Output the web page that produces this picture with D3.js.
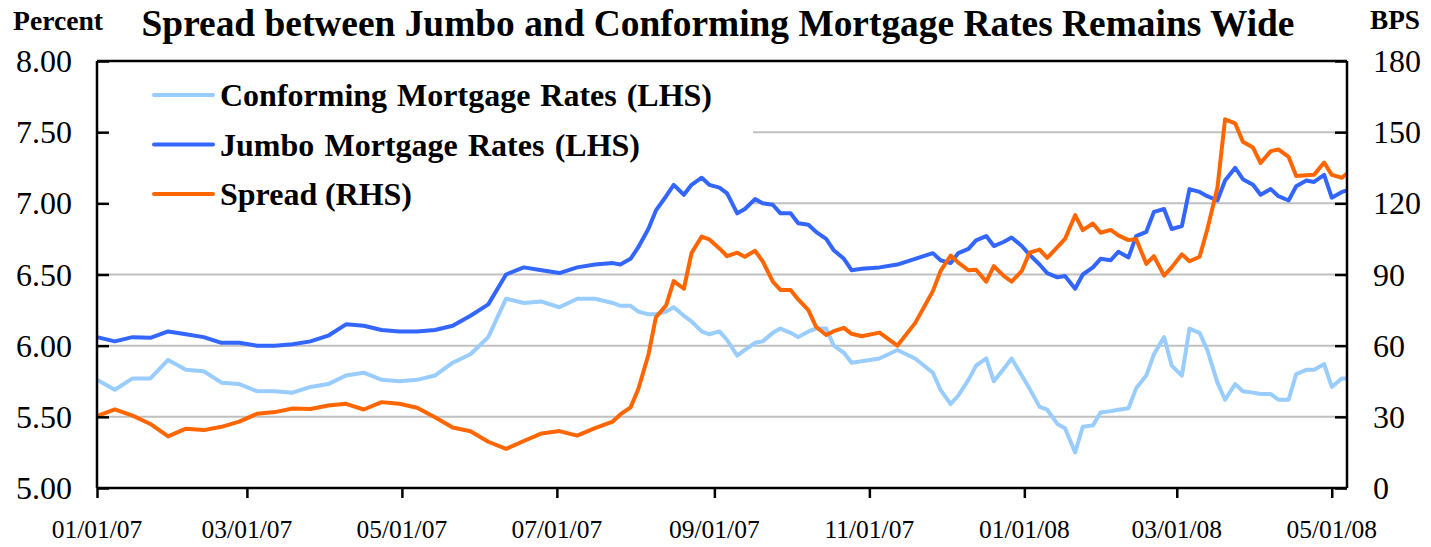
<!DOCTYPE html>
<html>
<head>
<meta charset="utf-8">
<script src="https://cdn.jsdelivr.net/npm/d3@7"></script>
<style>
  body { margin: 0; background: #fff; }
  svg { display: block; font-family: "Liberation Serif", "Times New Roman", serif; }
</style>
</head>
<body>
<svg id="chart" width="1431" height="547"></svg>
<script>
const dates = [
  "2007-01-01","2007-01-08","2007-01-15","2007-01-22","2007-01-29","2007-02-05","2007-02-12","2007-02-19","2007-02-26","2007-03-05","2007-03-12","2007-03-19","2007-03-26","2007-04-02","2007-04-09","2007-04-16","2007-04-23","2007-04-30",
  "2007-05-07","2007-05-14","2007-05-21","2007-05-28","2007-06-04","2007-06-11","2007-06-18","2007-06-25","2007-07-02","2007-07-09","2007-07-16","2007-07-23",
  "2007-07-26","2007-07-30","2007-08-02","2007-08-06","2007-08-09","2007-08-13","2007-08-16","2007-08-20","2007-08-23","2007-08-27","2007-08-30","2007-09-03","2007-09-06",
  "2007-09-10","2007-09-13","2007-09-17","2007-09-20","2007-09-24","2007-09-27","2007-10-01","2007-10-04","2007-10-08","2007-10-11","2007-10-15","2007-10-18","2007-10-22","2007-10-25","2007-10-29",
  "2007-11-05","2007-11-12","2007-11-19","2007-11-26","2007-11-29","2007-12-03","2007-12-06","2007-12-10","2007-12-13","2007-12-17","2007-12-20","2007-12-24","2007-12-27","2007-12-31",
  "2008-01-03","2008-01-07","2008-01-10","2008-01-14","2008-01-17","2008-01-21","2008-01-24","2008-01-28","2008-01-31","2008-02-04","2008-02-07","2008-02-11","2008-02-14","2008-02-18","2008-02-21","2008-02-25","2008-02-28",
  "2008-03-03","2008-03-06","2008-03-10","2008-03-13","2008-03-17","2008-03-20","2008-03-24","2008-03-27","2008-03-31","2008-04-03","2008-04-07","2008-04-10","2008-04-14","2008-04-17","2008-04-21","2008-04-24","2008-04-28","2008-05-01","2008-05-05","2008-05-07"
];

const conforming = [
  5.76,5.69,5.77,5.77,5.90,5.83,5.82,5.74,5.73,5.68,5.68,5.67,5.71,5.73,5.79,5.81,5.76,5.75,
  5.76,5.79,5.88,5.94,6.06,6.33,6.30,6.31,6.27,6.33,6.33,6.30,
  6.28,6.28,6.24,6.22,6.22,6.24,6.27,6.21,6.17,6.10,6.08,6.10,6.04,
  5.93,5.97,6.02,6.03,6.09,6.12,6.09,6.06,6.10,6.12,6.12,6.00,5.95,5.88,5.89,
  5.91,5.97,5.91,5.81,5.69,5.59,5.65,5.76,5.86,5.91,5.75,5.84,5.91,5.79,
  5.70,5.57,5.55,5.45,5.42,5.25,5.43,5.44,5.53,5.54,5.55,5.56,5.70,5.79,5.94,6.06,5.86,
  5.79,6.12,6.09,5.97,5.74,5.62,5.73,5.68,5.67,5.66,5.66,5.62,5.62,5.80,5.83,5.83,5.87,5.71,5.77,5.77
];

const jumbo = [
  6.06,6.03,6.06,6.055,6.10,6.08,6.06,6.02,6.02,6.00,6.00,6.01,6.03,6.07,6.15,6.14,6.11,6.10,
  6.10,6.11,6.14,6.21,6.29,6.50,6.55,6.53,6.51,6.55,6.57,6.58,
  6.57,6.61,6.69,6.82,6.95,7.05,7.13,7.06,7.13,7.18,7.13,7.11,7.07,
  6.93,6.96,7.03,7.00,6.99,6.93,6.93,6.86,6.85,6.80,6.75,6.67,6.61,6.53,6.54,
  6.55,6.57,6.61,6.65,6.60,6.58,6.65,6.68,6.74,6.77,6.70,6.73,6.76,6.70,
  6.64,6.57,6.51,6.48,6.49,6.40,6.50,6.55,6.61,6.60,6.66,6.62,6.77,6.80,6.94,6.96,6.82,
  6.84,7.10,7.08,7.05,7.02,7.16,7.25,7.17,7.13,7.06,7.10,7.05,7.02,7.12,7.16,7.15,7.20,7.04,7.08,7.09
];

const spread = [
  30.3,33.1,30.5,27.0,21.8,25.0,24.4,25.8,28.0,31.3,32.0,33.5,33.3,34.8,35.5,33.1,36.2,35.5,
  33.8,29.8,25.5,23.9,19.5,16.5,19.8,23.0,24.0,22.1,25.2,28.0,
  31.0,34.0,41.5,56.0,72.0,77.0,87.2,84.0,99.0,106.0,104.8,101.0,97.7,
  99.2,97.5,100.0,95.6,87.0,83.5,83.5,79.5,75.0,68.0,64.5,66.1,67.5,65.0,64.0,
  65.5,60.0,69.5,83.0,91.4,98.0,95.0,91.8,92.0,87.0,93.5,89.3,87.0,91.5,
  99.2,100.5,97.0,101.5,105.0,115.0,108.7,111.5,107.6,108.8,106.5,104.5,105.0,94.5,97.7,89.5,93.0,
  98.5,95.6,97.5,109.0,126.6,155.4,153.7,146.0,143.5,137.0,142.0,142.7,139.6,131.5,131.8,132.0,137.2,132.0,130.8,132.6
];

const leftTicks = [5.00, 5.50, 6.00, 6.50, 7.00, 7.50, 8.00];
const rightTicks = [0, 30, 60, 90, 120, 150, 180];
const xTickDates = ["2007-01-01","2007-03-01","2007-05-01","2007-07-01","2007-09-01","2007-11-01","2008-01-01","2008-03-01","2008-05-01"];

const seriesList = [
  { name: "Conforming Mortgage Rates (LHS)", values: conforming, axis: "left", color: "#99CCFF", legendW: 492 },
  { name: "Jumbo Mortgage Rates (LHS)", values: jumbo, axis: "left", color: "#3366FF", legendW: 420 },
  { name: "Spread (RHS)", values: spread, axis: "right", color: "#FF6600", legendW: 192 }
];

const parse = d3.timeParse("%Y-%m-%d");
const fmt = d3.timeFormat("%m/%d/%y");

const svg = d3.select("#chart");
const plot = { left: 97, right: 1347, top: 61, bottom: 488 };

const x = d3.scaleTime()
  .domain([parse("2007-01-01"), parse("2008-05-07")])
  .range([plot.left, plot.right]);
const yL = d3.scaleLinear().domain([5, 8]).range([plot.bottom, plot.top]);
const yR = d3.scaleLinear().domain([0, 180]).range([plot.bottom, plot.top]);

// gridlines
svg.append("g")
  .selectAll("line")
  .data(leftTicks.filter(t => t > 5 && t < 8))
  .join("line")
  .attr("x1", plot.left).attr("x2", plot.right)
  .attr("y1", d => yL(d)).attr("y2", d => yL(d))
  .attr("stroke", "#C0C0C0").attr("stroke-width", 2);

// legend background hides the upper gridlines
svg.append("rect")
  .attr("x", plot.left + 2).attr("y", plot.top + 2)
  .attr("width", 654).attr("height", 152)
  .attr("fill", "#fff");

// series
seriesList.forEach(s => {
  const yScale = s.axis === "left" ? yL : yR;
  const line = d3.line()
    .x((d, i) => x(parse(dates[i])))
    .y(d => yScale(d));
  svg.append("path")
    .datum(s.values)
    .attr("fill", "none")
    .attr("stroke", s.color)
    .attr("stroke-width", 4)
    .attr("stroke-linejoin", "round")
    .attr("d", line);
});

// axes
const leftAxis = svg.append("g")
  .attr("transform", `translate(${plot.left},0)`)
  .call(d3.axisRight(yL).tickValues(leftTicks).tickSize(12).tickFormat(""));
const rightAxis = svg.append("g")
  .attr("transform", `translate(${plot.right},0)`)
  .call(d3.axisLeft(yR).tickValues(rightTicks).tickSize(12).tickFormat(""));
const bottomAxis = svg.append("g")
  .attr("transform", `translate(0,${plot.bottom})`)
  .call(d3.axisBottom(x).tickValues(xTickDates.map(parse)).tickSize(10).tickFormat(""));
[leftAxis, rightAxis, bottomAxis].forEach(g => {
  g.selectAll("path.domain").attr("stroke", "#000").attr("stroke-width", 2.5);
  g.selectAll(".tick line").attr("stroke", "#000").attr("stroke-width", 2.5);
});
leftAxis.select("path.domain").attr("d", `M0,${plot.top}V${plot.bottom}`);
rightAxis.select("path.domain").attr("d", `M0,${plot.top}V${plot.bottom}`);
bottomAxis.select("path.domain").attr("d", `M${plot.left},0H${plot.right}`);

// top border
svg.append("line")
  .attr("x1", plot.left).attr("x2", plot.right)
  .attr("y1", plot.top).attr("y2", plot.top)
  .attr("stroke", "#000").attr("stroke-width", 2.5);

// tick labels
svg.append("g")
  .selectAll("text")
  .data(leftTicks)
  .join("text")
  .attr("x", 72).attr("y", d => yL(d) + 11)
  .attr("text-anchor", "end")
  .attr("font-size", 32)
  .text(d => d.toFixed(2));

svg.append("g")
  .selectAll("text")
  .data(rightTicks)
  .join("text")
  .attr("x", 1373).attr("y", d => yR(d) + 11)
  .attr("font-size", 32)
  .text(d => d);

svg.append("g")
  .selectAll("text")
  .data(xTickDates)
  .join("text")
  .attr("x", d => x(parse(d))).attr("y", 538)
  .attr("text-anchor", "middle")
  .attr("font-size", 25.5)
  .text(d => fmt(parse(d)));

// titles
svg.append("text")
  .attr("x", 718).attr("y", 36)
  .attr("text-anchor", "middle")
  .attr("font-size", 37.4).attr("font-weight", "bold")
  .text("Spread between Jumbo and Conforming Mortgage Rates Remains Wide");
svg.append("text")
  .attr("x", 13).attr("y", 30)
  .attr("font-size", 27).attr("font-weight", "bold")
  .attr("textLength", 90).attr("lengthAdjust", "spacingAndGlyphs")
  .text("Percent");
svg.append("text")
  .attr("x", 1370).attr("y", 29)
  .attr("font-size", 27).attr("font-weight", "bold")
  .attr("textLength", 50).attr("lengthAdjust", "spacingAndGlyphs")
  .text("BPS");

// legend
const legend = svg.append("g");
seriesList.forEach((s, i) => {
  const cy = 95 + i * 49.5;
  legend.append("line")
    .attr("x1", 154).attr("x2", 213)
    .attr("y1", cy).attr("y2", cy)
    .attr("stroke", s.color).attr("stroke-width", 4).attr("stroke-linecap", "round");
  const t = legend.append("text")
    .attr("x", 220).attr("y", cy + 11)
    .attr("font-size", 32).attr("font-weight", "bold")
    .text(s.name);
  const gaps = s.name.split(" ").length - 1;
  const extra = (s.legendW - t.node().getComputedTextLength()) / gaps;
  t.attr("word-spacing", extra);
});
</script>
</body>
</html>
